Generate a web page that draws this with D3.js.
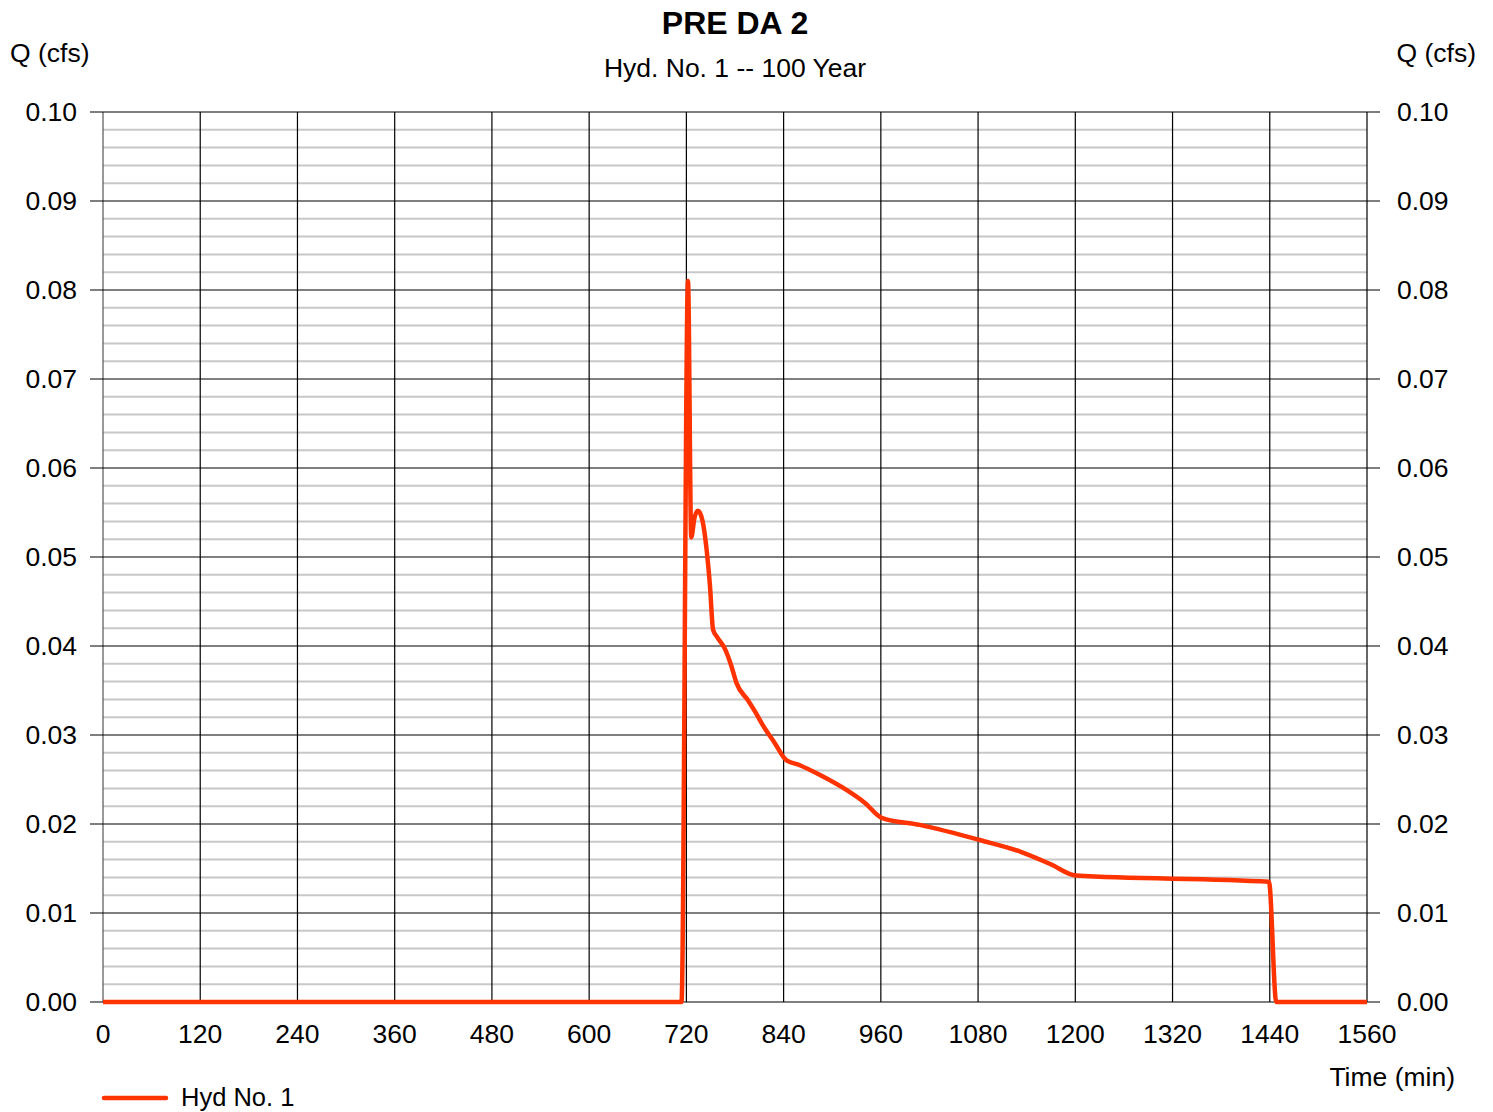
<!DOCTYPE html>
<html><head><meta charset="utf-8">
<script src="https://cdn.jsdelivr.net/npm/d3@7"></script>
<style>body{margin:0;background:#fff;} text{font-family:"Liberation Sans",Arial,sans-serif;fill:#000;}</style>
</head><body>
<svg id="c" width="1493" height="1112"></svg>
<script>
const title = "PRE DA 2";
const subtitle = "Hyd. No. 1 -- 100 Year";
const seriesName = "Hyd No. 1";
const xTicks = [0,120,240,360,480,600,720,840,960,1080,1200,1320,1440,1560];
const yTicks = [0,0.01,0.02,0.03,0.04,0.05,0.06,0.07,0.08,0.09,0.10];
const times  = [0,714,722,726,730,734,738,742,745,749,753,758,768,775,782,796,805,813,829,843,860,885,918,940,961,1008,1082,1132,1169,1201,1439,1448,1560];
const flows  = [0,0,0.0810,0.0522,0.0544,0.0552,0.0547,0.0530,0.0508,0.0469,0.0418,0.0410,0.0396,0.0379,0.0358,0.0339,0.0326,0.0313,0.0291,0.0272,0.0266,0.0255,0.0238,0.0224,0.0207,0.0199,0.0182,0.0169,0.0155,0.0142,0.0135,0,0];

const svg = d3.select("#c");
const L=103,R=1367,T=112,B=1002;
const FS=26.5;
const x = d3.scaleLinear().domain([0,1560]).range([L,R]);
const y = d3.scaleLinear().domain([0,0.10]).range([B,T]);

// minor grid
const minor = d3.range(0,0.1001,0.002).filter(v=>Math.abs(v*100-Math.round(v*100))>1e-6);
svg.append("g").selectAll("line").data(minor).join("line")
 .attr("x1",L).attr("x2",R).attr("y1",d=>y(d)).attr("y2",d=>y(d))
 .attr("stroke","#c8c8c8").attr("stroke-width",2);
// vertical grid
svg.append("g").selectAll("line").data(xTicks).join("line")
 .attr("x1",d=>x(d)).attr("x2",d=>x(d)).attr("y1",T).attr("y2",B)
 .attr("stroke",(d,i)=> i===0?"#555":"#000").attr("stroke-width",1.2);
// major horizontal grid with tick extension
svg.append("g").selectAll("line").data(yTicks).join("line")
 .attr("x1",L-13).attr("x2",R+13).attr("y1",d=>y(d)).attr("y2",d=>y(d))
 .attr("stroke","#000").attr("stroke-width",1.2);

// y labels
svg.append("g").selectAll("text").data(yTicks).join("text")
 .attr("x",77).attr("y",d=>y(d)).attr("dy","0.35em").attr("text-anchor","end")
 .attr("font-size",FS).text(d=>d.toFixed(2));
svg.append("g").selectAll("text").data(yTicks).join("text")
 .attr("x",1397).attr("y",d=>y(d)).attr("dy","0.35em").attr("text-anchor","start")
 .attr("font-size",FS).text(d=>d.toFixed(2));
// x labels
svg.append("g").selectAll("text").data(xTicks).join("text")
 .attr("x",d=>x(d)).attr("y",1034).attr("dy","0.35em").attr("text-anchor","middle")
 .attr("font-size",FS).text(d=>d);

// series
const line = d3.line().x((d,i)=>x(times[i])).y((d,i)=>y(flows[i])).curve(d3.curveMonotoneX);
svg.append("path").datum(flows).attr("d",line).attr("fill","none")
 .attr("stroke","#ff3300").attr("stroke-width",4.5).attr("stroke-linejoin","round");

// titles
svg.append("text").attr("x",735).attr("y",23).attr("dy","0.35em").attr("text-anchor","middle")
 .attr("font-size",32).attr("font-weight","bold").text(title);
svg.append("text").attr("x",735).attr("y",68).attr("dy","0.35em").attr("text-anchor","middle")
 .attr("font-size",FS).text(subtitle);
svg.append("text").attr("x",10).attr("y",53).attr("dy","0.35em").attr("font-size",FS).text("Q (cfs)");
svg.append("text").attr("x",1476).attr("y",53).attr("dy","0.35em").attr("text-anchor","end").attr("font-size",FS).text("Q (cfs)");
svg.append("text").attr("x",1455).attr("y",1077).attr("dy","0.35em").attr("text-anchor","end").attr("font-size",FS).text("Time (min)");

// legend
svg.append("line").attr("x1",104).attr("x2",166).attr("y1",1098).attr("y2",1098)
 .attr("stroke","#ff3300").attr("stroke-width",4.5).attr("stroke-linecap","round");
svg.append("text").attr("x",181).attr("y",1097).attr("dy","0.35em").attr("font-size",25.5).text(seriesName);
</script>
</body></html>
